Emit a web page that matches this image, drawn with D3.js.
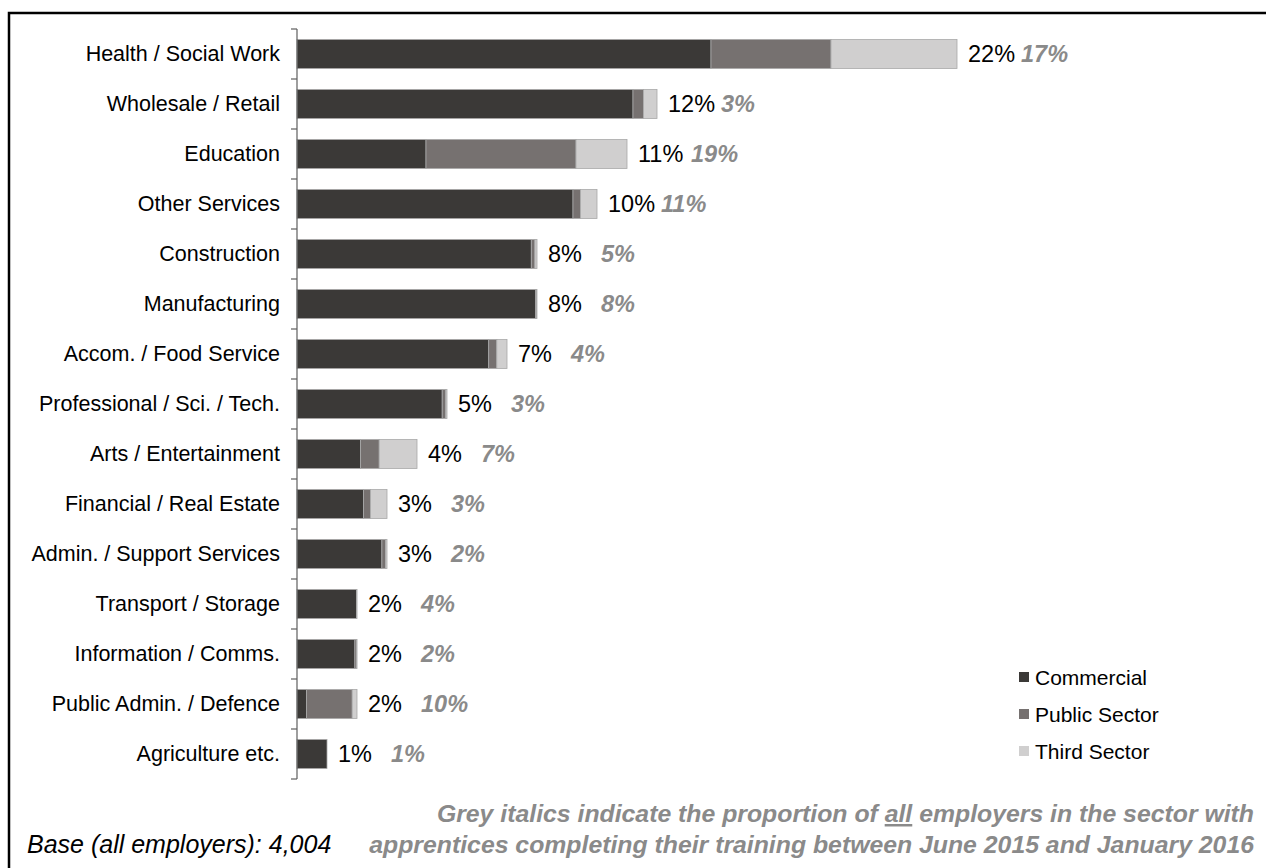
<!DOCTYPE html>
<html>
<head>
<meta charset="utf-8">
<script src="https://cdn.jsdelivr.net/npm/d3@7"></script>
<style>
  html, body { margin: 0; padding: 0; background: #fff; }
  svg { display: block; font-family: "Liberation Sans", Arial, sans-serif; }
</style>
</head>
<body>
<svg id="chart" width="1266" height="868"></svg>
<script>
// Sectors, top to bottom
const categories = [
  "Health / Social Work", "Wholesale / Retail", "Education", "Other Services",
  "Construction", "Manufacturing", "Accom. / Food Service", "Professional / Sci. / Tech.",
  "Arts / Entertainment", "Financial / Real Estate", "Admin. / Support Services",
  "Transport / Storage", "Information / Comms.", "Public Admin. / Defence", "Agriculture etc."
];

// Share of employers with completing apprentices, split by employer type (%)
const commercial = [13.8, 11.2, 4.3, 9.2, 7.81, 7.95, 6.39, 4.84, 2.12, 2.22, 2.83, 1.98, 1.93, 0.32, 1.0];
const publicSector = [4.0, 0.35, 5.0, 0.25, 0.12, 0.03, 0.27, 0.12, 0.62, 0.23, 0.12, 0.01, 0.06, 1.52, 0];
const thirdSector = [4.2, 0.45, 1.7, 0.55, 0.07, 0.02, 0.34, 0.04, 1.26, 0.55, 0.05, 0.01, 0.01, 0.16, 0];

// Proportion of all employers in each sector (%)
const allEmployers = [17, 3, 19, 11, 5, 8, 4, 3, 7, 3, 2, 4, 2, 10, 1];

const seriesNames = ["Commercial", "Public Sector", "Third Sector"];
const seriesColors = ["#3b3937", "#767170", "#d0cfcf"];

const rows = categories.map((c, i) => ({
  sector: c,
  "Commercial": commercial[i],
  "Public Sector": publicSector[i],
  "Third Sector": thirdSector[i],
  all: allEmployers[i]
}));

const svg = d3.select("#chart");

// Outer frame
svg.append("rect")
  .attr("x", 9).attr("y", 13).attr("width", 1275).attr("height", 880)
  .attr("fill", "none").attr("stroke", "#000").attr("stroke-width", 2.5);

const x = d3.scaleLinear().domain([0, 22]).range([297, 297 + 22 * 30]);
const y = d3.scaleBand().domain(categories).range([29, 779]).paddingInner(0.42).paddingOuter(0.21);

const stack = d3.stack().keys(seriesNames);
const layers = stack(rows);

svg.append("g").selectAll("g")
  .data(layers)
  .join("g")
  .attr("fill", (d, i) => seriesColors[i])
  .selectAll("rect")
  .data(d => d)
  .join("rect")
  .attr("x", d => x(d[0]))
  .attr("y", d => y(d.data.sector))
  .attr("width", d => Math.max(0, x(d[1]) - x(d[0])))
  .attr("height", y.bandwidth())
  .attr("stroke", "#a8a8a8")
  .attr("stroke-width", 0.8);

// Category axis: labels from the band scale, ticks between rows
const yAxis = d3.axisLeft(y).tickSize(0).tickPadding(17);
const axisG = svg.append("g").attr("transform", "translate(297,0)").call(yAxis);
axisG.select(".domain").remove();
axisG.selectAll("text")
  .attr("font-size", 21.5)
  .attr("fill", "#000")
  .attr("font-family", "'Liberation Sans', Arial, sans-serif");

svg.append("line")
  .attr("x1", 297).attr("x2", 297)
  .attr("y1", y.range()[0]).attr("y2", y.range()[1])
  .attr("stroke", "#5e5e5e").attr("stroke-width", 1.2);

const boundaries = d3.range(categories.length + 1).map(i => y.range()[0] + i * y.step());
svg.append("g").selectAll("line")
  .data(boundaries)
  .join("line")
  .attr("x1", 291).attr("x2", 297)
  .attr("y1", d => d).attr("y2", d => d)
  .attr("stroke", "#5e5e5e").attr("stroke-width", 1.2);

// Totals and all-employer proportions
const totals = rows.map(r => r["Commercial"] + r["Public Sector"] + r["Third Sector"]);
const fmt = v => d3.format(".0f")(v) + "%";

const labels = svg.append("g");
rows.forEach((r, i) => {
  const end = x(totals[i]);
  const cy = y(r.sector) + y.bandwidth() / 2;
  labels.append("text")
    .attr("x", end + 11).attr("y", cy).attr("dy", "0.36em")
    .attr("font-size", 23.5).attr("fill", "#000")
    .text(fmt(totals[i]));
  labels.append("text")
    .attr("x", end + 64).attr("y", cy).attr("dy", "0.36em")
    .attr("font-size", 23.5).attr("fill", "#8a8a8a")
    .attr("font-weight", "bold").attr("font-style", "italic")
    .text(r.all + "%");
});

// Legend
const legend = svg.append("g");
seriesNames.forEach((name, i) => {
  const ly = 677 + i * 37;
  legend.append("rect")
    .attr("x", 1019).attr("y", ly - 5).attr("width", 10).attr("height", 10)
    .attr("fill", seriesColors[i]);
  legend.append("text")
    .attr("x", 1035).attr("y", ly).attr("dy", "0.36em")
    .attr("font-size", 21).attr("fill", "#000")
    .text(name);
});

// Footnotes
svg.append("text")
  .attr("x", 27).attr("y", 853)
  .attr("font-size", 25).attr("font-style", "italic").attr("fill", "#000")
  .text("Base (all employers): 4,004");

const note = svg.append("text")
  .attr("text-anchor", "end")
  .attr("font-size", 24.8).attr("font-style", "italic").attr("font-weight", "bold")
  .attr("fill", "#8a8a8a");
const l1 = note.append("tspan").attr("x", 1254).attr("y", 822);
l1.append("tspan").text("Grey italics indicate the proportion of ");
l1.append("tspan").attr("text-decoration", "underline").text("all");
l1.append("tspan").text(" employers in the sector with");
note.append("tspan").attr("x", 1254).attr("y", 853)
  .text("apprentices completing their training between June 2015 and January 2016");
</script>
</body>
</html>
